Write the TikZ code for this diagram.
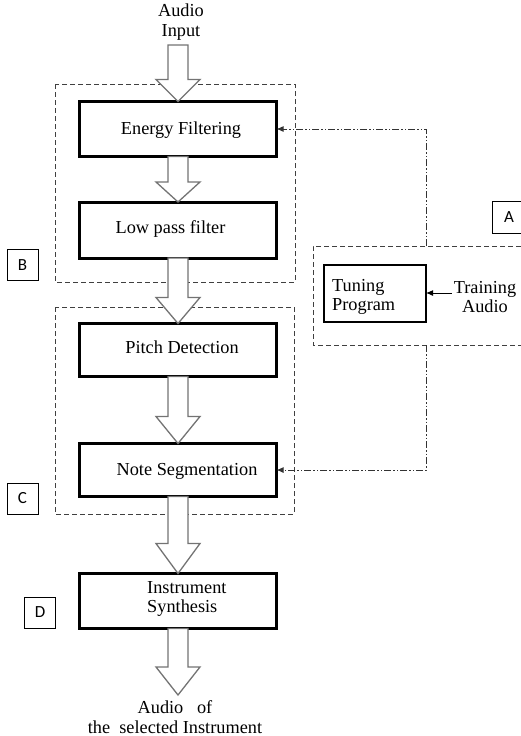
\documentclass[tikz,border=0pt]{standalone}
\usepackage{fontspec}
\setmainfont{Liberation Serif}
\newfontfamily\labfont{Carlito}
\usetikzlibrary{calc,arrows.meta}
\tikzset{
  thickbox/.style={draw=black, line width=3pt, minimum width=197pt, inner sep=0pt, outer sep=0pt},
  thinbox/.style={draw=black, line width=1.1pt, inner sep=0pt, outer sep=0pt},
  labbox/.style={draw=black, line width=0.9pt, minimum width=31pt, minimum height=31pt, inner sep=0pt, font=\labfont\fontsize{17}{19}\selectfont},
  grpbox/.style={draw=black!75, line width=1pt, dash pattern=on 5pt off 3pt},
  txt/.style={inner sep=0pt, font=\fontsize{18.3}{19.5}\selectfont, align=center},
  hollow/.style={draw=black!55, line width=1.3pt, fill=white, line join=miter},
  dashdot/.style={draw=black!80, line width=1pt, dash pattern=on 7pt off 2pt on 1.5pt off 2pt on 1.5pt off 2pt},
}
\newcommand\harrow[3]{%
  \draw[hollow] ($(#1)+(-10,0)$) -- ($(#2)+(-10,-#3)$) -- ($(#2)+(-22,-#3)$) -- (#2)
    -- ($(#2)+(22,-#3)$) -- ($(#2)+(10,-#3)$) -- ($(#1)+(10,0)$) -- cycle;}
\begin{document}
\begin{tikzpicture}[x=1pt,y=-1pt]
\useasboundingbox (0,0) rectangle (520,736);
% group boxes
\draw[grpbox] (55,84) rectangle (295,282);
\draw[grpbox] (55,307) rectangle (294,514);
\draw[grpbox] (521,246) -- (313,246) -- (313,345) -- (521,345);
% main boxes
\node[thickbox, minimum height=55pt] (energy) at (178,129) {};
\node[thickbox, minimum height=56pt] (lowpass) at (178,230) {};
\node[thickbox, minimum height=53pt] (pitch) at (178,350) {};
\node[thickbox, minimum height=53pt] (note) at (178,470) {};
\node[thickbox, minimum height=55pt] (inst) at (178,601) {};
\node[txt] (energyT) at (181,130) {Energy Filtering};
\node[txt] (lowpassT) at (170.5,229) {Low pass filter};
\node[txt] (pitchT) at (182,347) {Pitch Detection};
\node[txt] (noteT) at (187,471) {Note Segmentation};
\node[txt, anchor=west, align=left] (instT) at (147,599) {Instrument\\Synthesis};
% input/output text
\node[txt] (inT) at (181,22) {Audio\\Input};
\node[txt] (outT) at (175,717) {Audio\ \ \ of\\the\ \ selected Instrument};
\coordinate (inS) at (178,45);
\coordinate (outE) at (178,695);
% hollow arrows
\harrow{inS}{energy.north}{22}
\harrow{energy.south}{lowpass.north}{20}
\harrow{lowpass.south}{pitch.north}{26}
\harrow{pitch.south}{note.north}{27}
\harrow{note.south}{inst.north}{30}
\harrow{inst.south}{outE}{28}
% tuning part
\node[thinbox, minimum width=102pt, minimum height=57pt] (tuning) at (375,293.5) {};
\node[txt, anchor=west, align=left] (tuningT) at (332,297) {Tuning\\Program};
\node[txt] (training) at (485,297) {Training\\Audio};
\draw[line width=1pt, -{Latex[length=7pt,width=6pt]}] (training.west) ++(-2,-4) coordinate (trS) -- (tuning.east |- trS);
% feedback dash-dot lines
\coordinate (atop) at (426,246);
\coordinate (abot) at (426,345);
\draw[dashdot, -{Latex[length=7pt,width=6pt]}] (atop) |- (energy.east);
\draw[dashdot, -{Latex[length=7pt,width=6pt]}] (abot) |- (note.east);
% letter labels
\node[labbox] (B) at (22.5,265) {B};
\node[labbox] (C) at (22.5,498.5) {C};
\node[labbox] (D) at (40,612.5) {D};
\draw[line width=0.9pt] (521,201) -- (492,201) -- (492,233) -- (521,233);
\node[inner sep=0pt, font=\labfont\fontsize{17}{19}\selectfont] (A) at (509,217) {A};
\end{tikzpicture}
\end{document}
